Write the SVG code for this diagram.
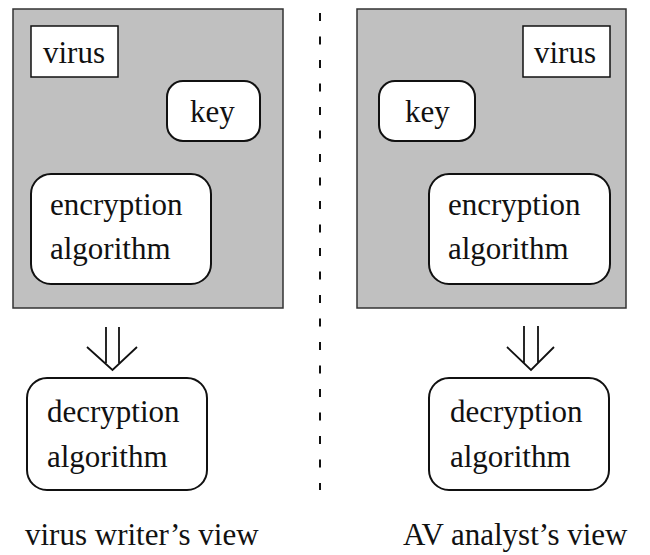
<svg xmlns="http://www.w3.org/2000/svg" width="650" height="555" viewBox="0 0 650 555">
  <style>
    .panel { fill: #c0c0c0; stroke: #333; stroke-width: 1.5; }
    .sq { fill: #fff; stroke: #111; stroke-width: 1.5; }
    .rnd { fill: #fff; stroke: #111; stroke-width: 2; }
    text { font-family: "Liberation Serif", "Times New Roman", serif; font-size: 31px; fill: #111; }
    .conn { fill: none; stroke: #111; stroke-width: 1.8; stroke-linejoin: miter; }
    .divider { stroke: #111; stroke-width: 2; stroke-dasharray: 8 15.5; }
  </style>
  <rect width="650" height="555" fill="#fff"/>

  <!-- left column: virus writer's view -->
  <g id="writer-panel">
    <rect class="panel" x="13" y="9" width="270" height="299"/>
  </g>
  <g id="writer-virus">
    <rect class="sq" x="31" y="26" width="87" height="51"/>
    <text x="43" y="63">virus</text>
  </g>
  <g id="writer-key">
    <rect class="rnd" x="167" y="81" width="93" height="60" rx="16"/>
    <text x="190" y="122">key</text>
  </g>
  <g id="writer-encryption">
    <rect class="rnd" x="31" y="174" width="180" height="110" rx="20"/>
    <text x="50" y="215">encryption</text>
    <text x="50" y="259">algorithm</text>
  </g>
  <g id="writer-decryption">
    <rect class="rnd" x="27" y="378" width="180" height="112" rx="20"/>
    <text x="47" y="422">decryption</text>
    <text x="47" y="467">algorithm</text>
  </g>
  <g id="writer-caption">
    <text x="25" y="545">virus writer’s view</text>
  </g>

  <!-- right column: AV analyst's view -->
  <g id="analyst-panel">
    <rect class="panel" x="357" y="9" width="269" height="299"/>
  </g>
  <g id="analyst-virus">
    <rect class="sq" x="523" y="26" width="87" height="51"/>
    <text x="534" y="63">virus</text>
  </g>
  <g id="analyst-key">
    <rect class="rnd" x="379" y="81" width="96" height="60" rx="16"/>
    <text x="405" y="122">key</text>
  </g>
  <g id="analyst-encryption">
    <rect class="rnd" x="429" y="174" width="181" height="110" rx="20"/>
    <text x="448" y="215">encryption</text>
    <text x="448" y="259">algorithm</text>
  </g>
  <g id="analyst-decryption">
    <rect class="rnd" x="429" y="378" width="180" height="112" rx="20"/>
    <text x="450" y="422">decryption</text>
    <text x="450" y="467">algorithm</text>
  </g>
  <g id="analyst-caption">
    <text x="403" y="545">AV analyst’s view</text>
  </g>

  <!-- divider between the two views -->
  <g id="divider">
    <line class="divider" x1="320" y1="13" x2="320" y2="490"/>
  </g>

  <!-- double-shafted "derives" arrows -->
  <g id="connectors">
    <path class="conn" d="M106 327 V363 M119 327 V363 M87 347 L112.5 370 L137 347"/>
    <path class="conn" d="M524 326 V363 M538 326 V363 M507 347 L531 370 L554 347"/>
  </g>
</svg>
